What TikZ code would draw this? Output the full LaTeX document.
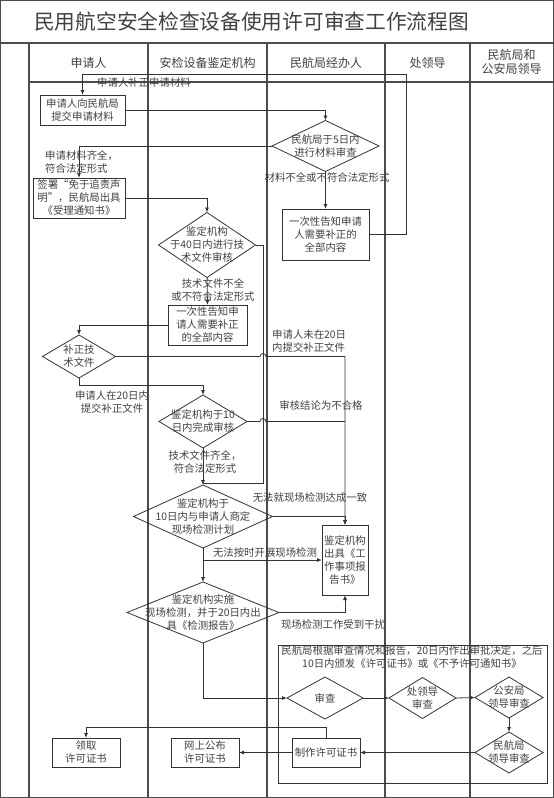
\documentclass[tikz,border=0pt]{standalone}
\usepackage{fontspec}
\setmainfont{Noto Sans CJK SC}
\usetikzlibrary{shapes.geometric,arrows.meta,calc}
\definecolor{lanegray}{gray}{0.3}
\definecolor{linegray}{gray}{0.2}
\definecolor{textgray}{gray}{0.25}

\begin{document}
\begin{tikzpicture}[x=1pt,y=-1pt,
    lane/.style={draw=lanegray, line width=1.4pt},
    link/.style={draw=linegray, line width=0.8pt},
    flow/.style={link, -{Latex[length=5pt,width=4pt]}},
    txt/.style={text=textgray, font=\fontsize{10.4}{13}\selectfont, align=center, inner sep=0pt},
    hdr/.style={text=textgray, font=\fontsize{12}{14}\selectfont, align=center, inner sep=0pt},
    box/.style={rectangle, draw=linegray, line width=0.8pt, txt, inner sep=1pt, outer sep=0pt},
    dia/.style={diamond, draw=linegray, line width=0.8pt, inner sep=0pt, outer sep=0pt}]
        \useasboundingbox (0,0) rectangle (554,798);

        % Draw the frame, the title row and the swim lanes
        \draw[lane] (0.7,0.7) rectangle (553.3,797.3);
        \draw[lane] (0,43) -- (554,43);
        \draw[lane] (29,82) -- (554,82);
        \foreach \x in {29,148,267,385,470}
            \draw[lane] (\x,43) -- (\x,798);
        \node[anchor=west, text=textgray, font=\fontsize{20.7}{24}\selectfont, inner sep=0pt] (title) at (34,22) {民用航空安全检查设备使用许可审查工作流程图};

        % Lane headers
        \node[hdr] (h1) at (88.5,63) {申请人};
        \node[hdr] (h2) at (207.5,63) {安检设备鉴定机构};
        \node[hdr] (h3) at (326,63) {民航局经办人};
        \node[hdr] (h4) at (427.5,63) {处领导};
        \node[hdr] (h5) at (511.5,62) {民航局和\\公安局领导};

        % Steps of the procedure
        \node[box, minimum width=85pt, minimum height=30pt] (apply) at (82.5,110) {申请人向民航局\\提交申请材料};
        \node[dia, minimum width=107pt, minimum height=51pt, label={[txt]center:{民航局于5日内\\进行材料审查}}] (check5) at (325.5,146) {};
        \node[box, minimum width=92pt, minimum height=40pt] (accept) at (79,198) {签署“免于追责声\\明”，民航局出具\\《受理通知书》};
        \node[box, minimum width=87pt, minimum height=51pt] (notify1) at (325.5,234.5) {一次性告知申请\\人需要补正的\\全部内容};
        \node[dia, minimum width=97pt, minimum height=65pt, label={[txt]center:{鉴定机构\\于40日内进行技\\术文件审核}}] (check40) at (207,245) {};
        \node[box, minimum width=79pt, minimum height=40pt] (notify2) at (207.5,325) {一次性告知申\\请人需要补正\\的全部内容};
        \node[dia, minimum width=73pt, minimum height=43pt, label={[txt]center:{补正技\\术文件}}] (supply) at (79,356.5) {};
        \node[dia, minimum width=88pt, minimum height=53pt, label={[txt]center:{鉴定机构于10\\日内完成审核}}] (check10) at (203,421.5) {};
        \node[dia, minimum width=139pt, minimum height=63pt, label={[txt]center:{鉴定机构于\\10日内与申请人商定\\现场检测计划}}] (plan) at (203,516.5) {};
        \node[box, minimum width=46pt, minimum height=70pt] (report) at (345,560) {鉴定机构\\出具《工\\作事项报\\告书》};
        \node[dia, minimum width=152pt, minimum height=61pt, label={[txt]center:{鉴定机构实施\\现场检测，并于20日内出\\具《检测报告》}}] (inspect) at (203,612.5) {};

        % Approval block
        \draw[link] (278,645) rectangle (547,783);
        \node[txt] (decide) at (412,657) {民航局根据审查情况和报告，20日内作出审批决定，之后\\10日内颁发《许可证书》或《不予许可通知书》};
        \node[dia, minimum width=76pt, minimum height=42pt, label={[txt]center:{审查}}] (review) at (325,698) {};
        \node[dia, minimum width=67pt, minimum height=41pt, label={[txt]center:{处领导\\审查}}] (chief) at (422.5,698) {};
        \node[dia, minimum width=68pt, minimum height=41pt, label={[txt]center:{公安局\\领导审查}}] (police) at (509,697.5) {};
        \node[dia, minimum width=68pt, minimum height=41pt, label={[txt]center:{民航局\\领导审查}}] (caac) at (509,752.5) {};
        \node[box, minimum width=68pt, minimum height=29pt] (make) at (326,752.5) {制作许可证书};
        \node[box, minimum width=68pt, minimum height=29pt] (publish) at (205,752.5) {网上公布\\许可证书};
        \node[box, minimum width=68pt, minimum height=29pt] (collect) at (86,752.5) {领取\\许可证书};

        % Turning points of the connectors
        \coordinate (loop) at (406,74);
        \coordinate (jx) at (263,483);
        \coordinate (fork) at (plan.south |- report.west);

        % Connectors
        \draw[flow] (notify1.east) -| (loop) -| (apply.north);
        \draw[flow] (apply.east) -| (check5.north);
        \draw[flow] (check5.west) -| (accept.north);
        \draw[flow] (check5.south) -- (notify1.north);
        \draw[flow] (accept.east) -| (check40.north);
        \draw[flow] (check40.south) -- (notify2.north);
        \draw[flow] (notify2.west) -| (supply.north);
        \draw[link] (check40.east) -| (jx) -- (jx -| plan.north);
        \draw[flow] (supply.south) -- ++(0,7) -| (check10.north);
        \draw[flow] (supply.east) -- ($(jx |- supply.east)+(-3,0)$) arc[start angle=180,end angle=0,radius=3pt] -- (report.north |- supply.east) -- (report.north);
        \draw[link] (check10.east) -- ($(jx |- check10.east)+(-3,0)$) arc[start angle=180,end angle=0,radius=3pt] -- (report.north |- check10.east);
        \draw[flow] (check10.south) -- (plan.north);
        \draw[flow] (plan.east) -| (report.north);
        \draw[flow] (plan.south) -- (inspect.north);
        \draw[flow] (fork) -- (report.west);
        \draw[flow] (inspect.east) -| (report.south);
        \draw[flow] (inspect.south) |- (review.west);
        \draw[flow] (review.east) -- (chief.west);
        \draw[flow] (chief.east) -- (police.west);
        \draw[flow] (police.south) -- (caac.north);
        \draw[flow] (caac.west) -- (make.east);
        \draw[flow] (make.west) -- (publish.east);
        \draw[flow] (make.north) -- ++(0,-11) -| (collect.north);

        % Connector labels
        \node[txt, anchor=west] (l1) at (97,83) {申请人补正申请材料};
        \node[txt, align=left, anchor=west] (l2) at (45,162) {申请材料齐全，\\符合法定形式};
        \node[txt] (l3) at (327,178) {材料不全或不符合法定形式};
        \node[txt] (l4) at (213,290) {技术文件不全\\或不符合法定形式};
        \node[txt, align=left, anchor=west] (l5) at (272,341) {申请人未在20日\\内提交补正文件};
        \node[txt] (l6) at (112,402) {申请人在20日内\\提交补正文件};
        \node[txt] (l7) at (321,406) {审核结论为不合格};
        \node[txt] (l8) at (205,462) {技术文件齐全，\\符合法定形式};
        \node[txt] (l9) at (310,498) {无法就现场检测达成一致};
        \node[txt] (l10) at (265,553) {无法按时开展现场检测};
        \node[txt] (l11) at (333,625) {现场检测工作受到干扰};
    \end{tikzpicture}
\end{document}
